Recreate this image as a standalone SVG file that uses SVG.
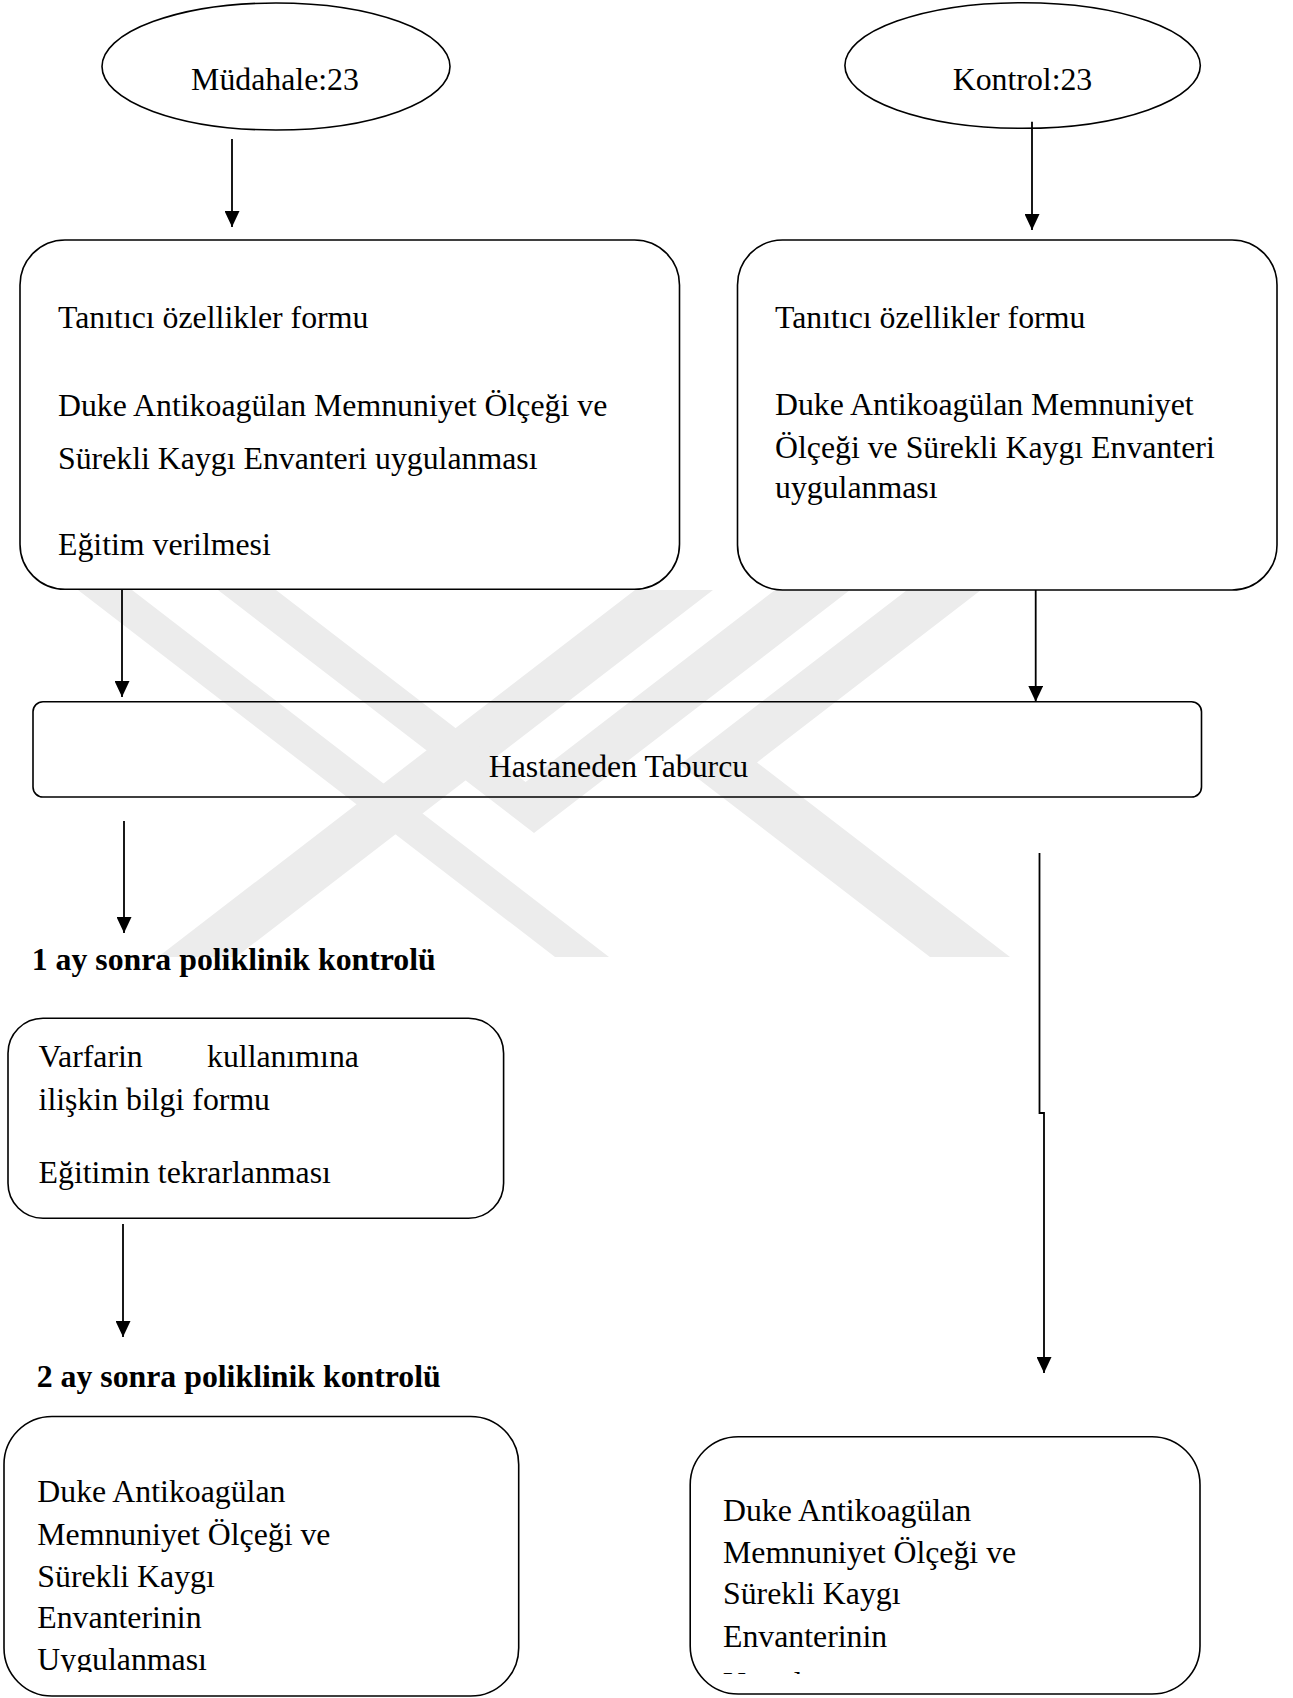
<svg xmlns="http://www.w3.org/2000/svg" width="1293" height="1698" viewBox="0 0 1293 1698">
<style>
.shape{fill:none;stroke:#000;stroke-width:1.6}
.conn{fill:none;stroke:#000;stroke-width:1.8}
.t{font-family:"Liberation Serif","Times New Roman",serif;font-size:31.8px;fill:#000}
.b{font-weight:bold}
.wm{fill:#ececec}
</style>
<defs>
<marker id="ah" markerUnits="userSpaceOnUse" markerWidth="16" markerHeight="15" viewBox="0 0 16 15" refX="16" refY="7.5" orient="auto">
<path d="M0,0 L16,7.5 L0,15 Z" fill="#000"/>
</marker>
<clipPath id="clipL" clipPathUnits="userSpaceOnUse"><rect x="0" y="1400" width="600" height="272"/></clipPath>
<clipPath id="clipR" clipPathUnits="userSpaceOnUse"><rect x="600" y="1400" width="700" height="274"/></clipPath>
</defs>
<rect width="1293" height="1698" fill="#fff"/>

<g id="watermark">
<polygon class="wm" points="78,590 132,590 609,957 555,957"/>
<polygon class="wm" points="635,590 713,590 236,957 158,957"/>
<polygon class="wm" points="218,590 276,590 525.6,782 775,590 850,590 534,833"/>
<polygon class="wm" points="907,590 981,590 757,762.4 1010,957 930,957 680,764.7"/>
</g>

<g id="mudahale">
<ellipse class="shape" cx="276" cy="66.5" rx="174" ry="63.5"/>
<text class="t" x="275" y="90" text-anchor="middle">Müdahale:23</text>
</g>
<g id="kontrol">
<ellipse class="shape" cx="1022.6" cy="65.5" rx="177.7" ry="62.8"/>
<text class="t" x="1022.5" y="90" text-anchor="middle">Kontrol:23</text>
</g>
<g id="box-mudahale">
<rect class="shape" x="20" y="240" width="659.5" height="349.3" rx="45"/>
<text class="t" x="58" y="328.3">Tanıtıcı özellikler formu</text>
<text class="t" x="58" y="415.7">Duke Antikoagülan Memnuniyet Ölçeği ve</text>
<text class="t" x="58" y="469.3">Sürekli Kaygı Envanteri uygulanması</text>
<text class="t" x="58" y="555">Eğitim verilmesi</text>
</g>
<g id="box-kontrol">
<rect class="shape" x="737.5" y="240" width="539.5" height="350" rx="45"/>
<text class="t" x="775" y="328.3">Tanıtıcı özellikler formu</text>
<text class="t" x="775" y="415">Duke Antikoagülan Memnuniyet</text>
<text class="t" x="775" y="457.7">Ölçeği ve Sürekli Kaygı Envanteri</text>
<text class="t" x="775" y="498.3">uygulanması</text>
</g>
<g id="taburcu">
<rect class="shape" x="33" y="701.7" width="1168.5" height="95.3" rx="10"/>
<text class="t" x="618.5" y="777" text-anchor="middle">Hastaneden Taburcu</text>
</g>
<g id="label-1ay">
<text class="t b" x="31.7" y="970">1 ay sonra poliklinik kontrolü</text>
</g>
<g id="box-varfarin">
<rect class="shape" x="8" y="1018.3" width="495.6" height="200" rx="35"/>
<text class="t" x="38.6" y="1066.7">Varfarin</text>
<text class="t" x="207" y="1066.7">kullanımına</text>
<text class="t" x="38.6" y="1110">ilişkin bilgi formu</text>
<text class="t" x="38.6" y="1183.3">Eğitimin tekrarlanması</text>
</g>
<g id="label-2ay">
<text class="t b" x="36.7" y="1386.7">2 ay sonra poliklinik kontrolü</text>
</g>
<g id="box-final-mudahale">
<rect class="shape" x="4" y="1416.5" width="514.7" height="279.5" rx="48"/>
<text class="t" x="37.3" y="1501.7">Duke Antikoagülan</text>
<text class="t" x="37.3" y="1545">Memnuniyet Ölçeği ve</text>
<text class="t" x="37.3" y="1586.7">Sürekli Kaygı</text>
<text class="t" x="37.3" y="1628.3">Envanterinin</text>
<text class="t" x="37.3" y="1670" clip-path="url(#clipL)">Uygulanması</text>
</g>
<g id="box-final-kontrol">
<rect class="shape" x="690.2" y="1436.7" width="509.8" height="257.3" rx="48"/>
<text class="t" x="723" y="1520.7">Duke Antikoagülan</text>
<text class="t" x="723" y="1563.3">Memnuniyet Ölçeği ve</text>
<text class="t" x="723" y="1604">Sürekli Kaygı</text>
<text class="t" x="723" y="1647.3">Envanterinin</text>
<text class="t" x="723" y="1693.5" clip-path="url(#clipR)">Uygulanması</text>
</g>

<g id="connectors">
<path class="conn" d="M232,139 V227" marker-end="url(#ah)"/>
<path class="conn" d="M1032,121.7 V230" marker-end="url(#ah)"/>
<path class="conn" d="M122,590 V697" marker-end="url(#ah)"/>
<path class="conn" d="M1035.7,590 V701.7" marker-end="url(#ah)"/>
<path class="conn" d="M124,821 V933" marker-end="url(#ah)"/>
<path class="conn" d="M1039.5,853 V1113 H1044 V1373" marker-end="url(#ah)"/>
<path class="conn" d="M123,1224 V1337" marker-end="url(#ah)"/>
</g>
</svg>
